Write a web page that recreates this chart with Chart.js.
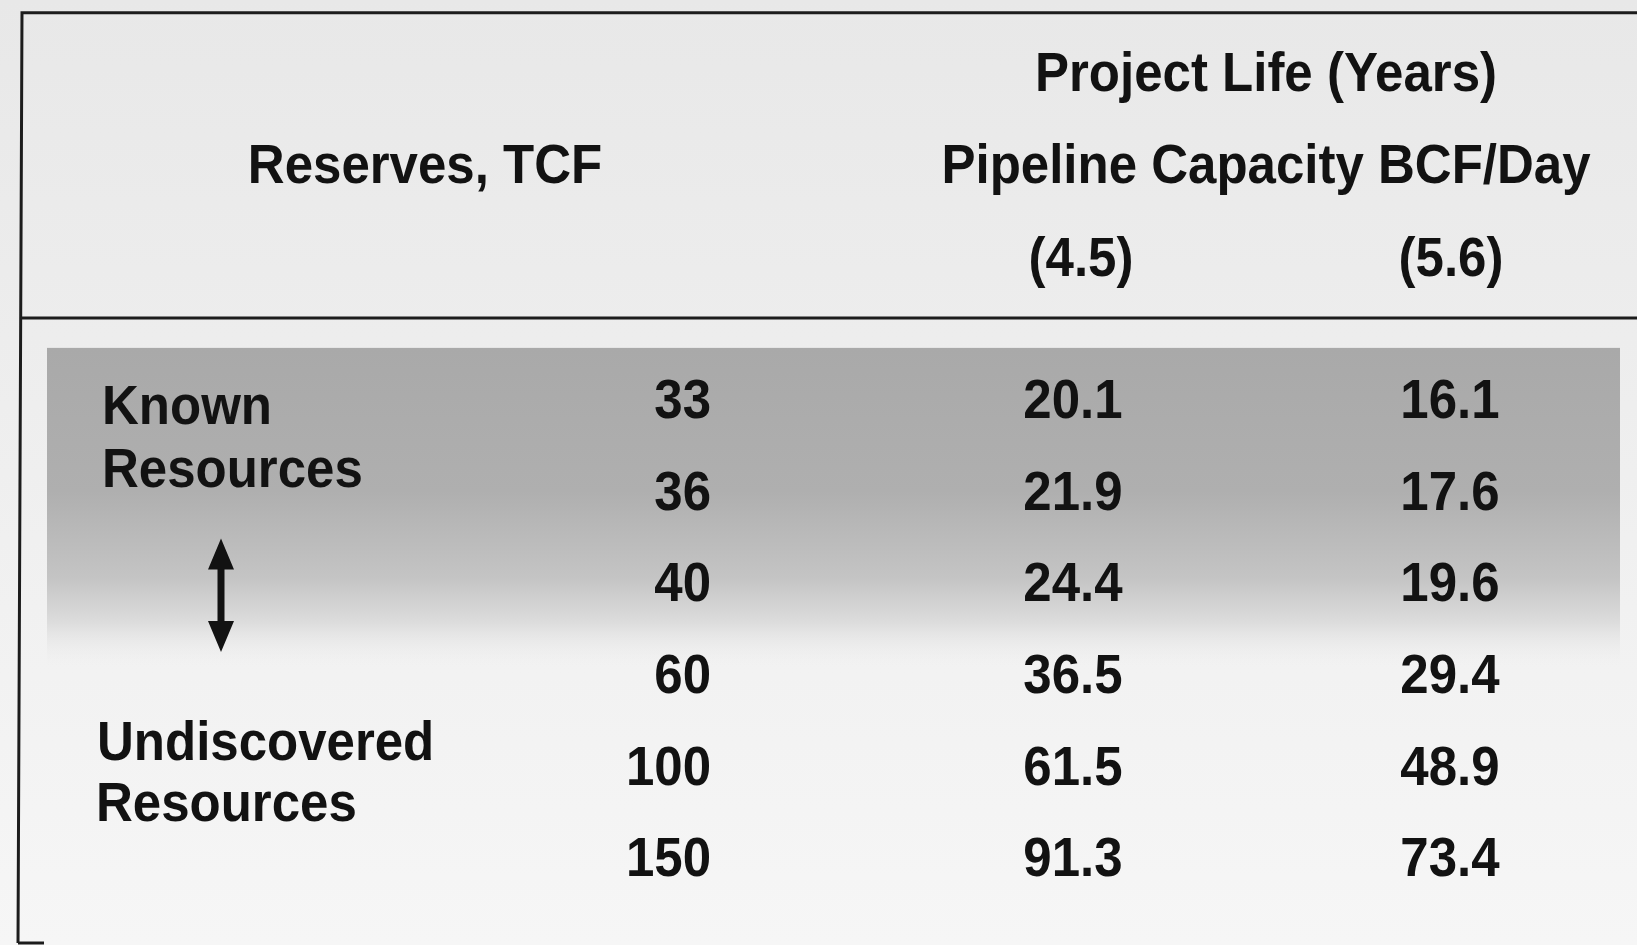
<!DOCTYPE html>
<html lang="en">
<head>
<meta charset="UTF-8" />
<title>Project Life vs Reserves</title>
<script src="https://cdn.jsdelivr.net/npm/chart.js"></script>
<style>
  html, body { margin: 0; padding: 0; background: #ececec; overflow: hidden; }
  .wrap { width: 1637px; height: 945px; position: relative; }
</style>
</head>
<body>
<div class="wrap"><canvas id="tbl"></canvas></div>
<script>
  // table values
  const reserves = [33, 36, 40, 60, 100, 150];
  const capacities = [4.5, 5.6];
  const lifeAt45 = [20.1, 21.9, 24.4, 36.5, 61.5, 91.3];
  const lifeAt56 = [16.1, 17.6, 19.6, 29.4, 48.9, 73.4];
  const titleText = 'Project Life (Years)';
  const capacityText = 'Pipeline Capacity BCF/Day';
  const reservesText = 'Reserves, TCF';
  const groupLabels = [['Known', 'Resources'], ['Undiscovered', 'Resources']];

  // layout: x in canvas px, y in row units (row 0 = first data row)
  const colX = { reserves: 711, c45: 1073, c56: 1450, head45: 1081, head56: 1451, title: 1266, resHead: 425 };
  const headRows = { title: -3.55, capacity: -2.55, caps: -1.53 };
  const groupRows = [[0.08, 0.77], [3.75, 4.42]];
  const groupX = [[102, 102], [97, 96]];
  const FONT = 'bold 51px "Liberation Sans", Arial, sans-serif';
  const INK = '#121212';

  const rowIdx = reserves.map((_, i) => i);
  const columns = [
    { key: 'reserves', vals: reserves, x: colX.reserves, align: 'right', fmt: v => String(v) },
    { key: 'c45', vals: lifeAt45, x: colX.c45, align: 'center', fmt: v => v.toFixed(1) },
    { key: 'c56', vals: lifeAt56, x: colX.c56, align: 'center', fmt: v => v.toFixed(1) }
  ];

  function txt(ctx, s, x, y, align) {
    ctx.save();
    ctx.translate(x, y);
    ctx.scale(1, 1.08);
    ctx.font = FONT;
    ctx.fillStyle = INK;
    ctx.textAlign = align;
    ctx.textBaseline = 'middle';
    ctx.fillText(s, 0, 0);
    ctx.restore();
  }

  const tablePlugin = {
    id: 'tablePlugin',
    beforeDraw(chart) {
      const { ctx, width, height, scales: { x, y } } = chart;
      ctx.save();
      const bg = ctx.createLinearGradient(0, 0, 0, height);
      bg.addColorStop(0, '#e8e8e8');
      bg.addColorStop(1, '#f6f6f6');
      ctx.fillStyle = bg;
      ctx.fillRect(0, 0, width, height);

      // shaded band behind the known-resource rows
      const bTop = y.getPixelForValue(-0.58), bBot = y.getPixelForValue(2.9);
      const band = ctx.createLinearGradient(0, bTop, 0, bBot);
      band.addColorStop(0, '#a9a9a9');
      band.addColorStop(0.45, '#afafaf');
      band.addColorStop(0.72, '#c4c4c4');
      band.addColorStop(0.86, '#dcdcdc');
      band.addColorStop(1, 'rgba(238,238,238,0)');
      ctx.fillStyle = band;
      ctx.fillRect(x.getPixelForValue(47), bTop, x.getPixelForValue(1620) - x.getPixelForValue(47), bBot - bTop);

      // frame lines
      ctx.strokeStyle = '#1c1c1c';
      ctx.lineWidth = 3;
      const top = y.getPixelForValue(-4.24), sep = y.getPixelForValue(-0.907);
      ctx.beginPath();
      ctx.moveTo(x.getPixelForValue(21), top); ctx.lineTo(width, top);
      ctx.moveTo(x.getPixelForValue(20), sep); ctx.lineTo(width, sep);
      ctx.moveTo(x.getPixelForValue(22), top - 1.5); ctx.lineTo(x.getPixelForValue(18), height - 2);
      ctx.moveTo(x.getPixelForValue(18), height - 2); ctx.lineTo(x.getPixelForValue(44), height - 2);
      ctx.stroke();

      // double arrow
      const ax = x.getPixelForValue(221), a1 = y.getPixelForValue(1.5), a2 = y.getPixelForValue(2.74);
      ctx.fillStyle = INK;
      ctx.fillRect(ax - 3.5, a1 + 20, 7, a2 - a1 - 40);
      ctx.beginPath();
      ctx.moveTo(ax, a1); ctx.lineTo(ax + 13, a1 + 31); ctx.lineTo(ax - 13, a1 + 31); ctx.closePath();
      ctx.moveTo(ax, a2); ctx.lineTo(ax + 13, a2 - 31); ctx.lineTo(ax - 13, a2 - 31); ctx.closePath();
      ctx.fill();
      ctx.restore();
    },
    afterDatasetsDraw(chart) {
      const { ctx, scales: { x, y } } = chart;
      // header
      txt(ctx, titleText, x.getPixelForValue(colX.title), y.getPixelForValue(headRows.title), 'center');
      txt(ctx, capacityText, x.getPixelForValue(colX.title), y.getPixelForValue(headRows.capacity), 'center');
      txt(ctx, reservesText, x.getPixelForValue(colX.resHead), y.getPixelForValue(headRows.capacity), 'center');
      txt(ctx, '(' + capacities[0].toFixed(1) + ')', x.getPixelForValue(colX.head45), y.getPixelForValue(headRows.caps), 'center');
      txt(ctx, '(' + capacities[1].toFixed(1) + ')', x.getPixelForValue(colX.head56), y.getPixelForValue(headRows.caps), 'center');
      // group labels
      groupLabels.forEach((lines, g) => {
        lines.forEach((s, k) => txt(ctx, s, x.getPixelForValue(groupX[g][k]), y.getPixelForValue(groupRows[g][k]), 'left'));
      });
      // cells, placed at the points the scatter datasets put down
      chart.data.datasets.forEach((ds, di) => {
        const col = columns[di];
        chart.getDatasetMeta(di).data.forEach((pt, i) => {
          txt(ctx, col.fmt(col.vals[i]), pt.x, pt.y + 2, col.align);
        });
      });
    }
  };

  new Chart(document.getElementById('tbl'), {
    type: 'scatter',
    data: {
      datasets: columns.map(c => ({
        label: c.key,
        data: rowIdx.map(i => ({ x: c.x, y: i })),
        pointRadius: 0,
        pointHoverRadius: 0
      }))
    },
    options: {
      responsive: true,
      maintainAspectRatio: false,
      animation: false,
      layout: { padding: 0 },
      plugins: { legend: { display: false }, tooltip: { enabled: false } },
      scales: {
        x: { type: 'linear', min: 0, max: 1637, display: false },
        y: { type: 'linear', min: -4.378, max: 5.939, reverse: true, display: false }
      }
    },
    plugins: [tablePlugin]
  });
</script>
</body>
</html>
